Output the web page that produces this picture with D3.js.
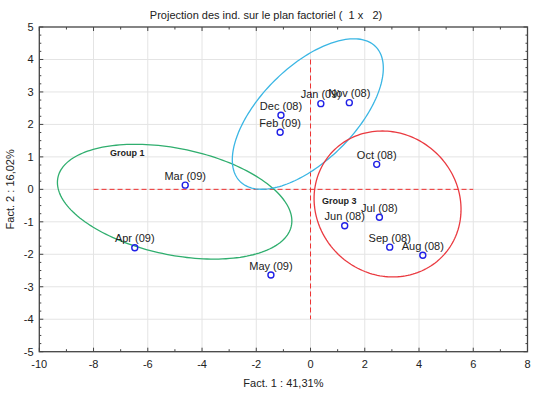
<!DOCTYPE html>
<html>
<head>
<meta charset="utf-8">
<script src="https://cdn.jsdelivr.net/npm/d3@7"></script>
<style>
  body { margin: 0; background: #fff; }
  text { font-family: "Liberation Sans", Arial, sans-serif; fill: #222; }
</style>
</head>
<body>
<svg id="chart" width="533" height="395"></svg>
<script>
// individuals projected on factor plane (1 x 2)
const labels = ["Jan (09)", "Nov (08)", "Dec (08)", "Feb (09)", "Oct (08)", "Jun (08)",
                "Jul (08)", "Sep (08)", "Aug (08)", "Mar (09)", "Apr (09)", "May (09)"];
const fact1 = [0.38, 1.43, -1.09, -1.12, 2.44, 1.26, 2.54, 2.92, 4.14, -4.62, -6.48, -1.46];
const fact2 = [2.64, 2.67, 2.28, 1.76, 0.77, -1.12, -0.86, -1.78, -2.03, 0.13, -1.80, -2.64];

// group ellipses: centre + shape (covariance-like) in factor units
const groupNames = ["Group 1", "Group 2", "Group 3"];
const groupColors = ["#2fae6e", "#3ab6e4", "#ea3a40"];
const groupCx = [-5.01, -0.10, 2.84];
const groupCy = [-0.38, 2.32, -0.45];
const groupSxx = [18.68, 7.75, 7.34];
const groupSyy = [3.125, 5.37, 5.05];
const groupSxy = [-2.56, 3.93, -0.45];

// only groups 1 and 3 are labelled
const groupLabelText = ["Group 1", "Group 3"];
const groupLabelX = [-7.39, 0.42];
const groupLabelY = [1.03, -0.44];

const xTicks = [-10, -8, -6, -4, -2, 0, 2, 4, 6, 8];
const yTicks = [-5, -4, -3, -2, -1, 0, 1, 2, 3, 4, 5];

const title = "Projection des ind. sur le plan factoriel (  1 x   2)";
const xTitle = "Fact. 1 : 41,31%";
const yTitle = "Fact. 2 : 16,02%";

const W = 533, H = 395;
const margin = {top: 27, right: 5.5, bottom: 43.3, left: 39.3};

const svg = d3.select("#chart");
let x = d3.scaleLinear().domain([-10, 8]).range([margin.left, W - margin.right]);
let y = d3.scaleLinear().domain([-5, 5]).range([H - margin.bottom, margin.top]);

// grid
let grid = svg.append("g").attr("stroke", "#e4e4e4").attr("stroke-width", 1);
grid.selectAll(".gx").data(xTicks.slice(1, -1)).join("line")
    .attr("x1", d => x(d)).attr("x2", d => x(d))
    .attr("y1", y(-5)).attr("y2", y(5));
grid.selectAll(".gy").data(yTicks.slice(1, -1)).join("line")
    .attr("x1", x(-10)).attr("x2", x(8))
    .attr("y1", d => y(d)).attr("y2", d => y(d));

// inward ticks on all four sides
let xMinor = d3.range(-10, 8.001, 1);
let yMinor = d3.range(-5, 5.001, 0.25);
let tk = svg.append("g").attr("stroke", "#444").attr("stroke-width", 1);
[[y(-5), -1], [y(5), 1]].forEach(([py, dir]) => {
    tk.selectAll(null).data(xMinor).join("line")
        .attr("x1", d => x(d)).attr("x2", d => x(d))
        .attr("y1", py).attr("y2", d => py + dir * (xTicks.includes(d) ? 4 : 2.5));
});
[[x(-10), 1], [x(8), -1]].forEach(([px, dir]) => {
    tk.selectAll(null).data(yMinor).join("line")
        .attr("y1", d => y(d)).attr("y2", d => y(d))
        .attr("x1", px).attr("x2", d => px + dir * (Number.isInteger(d) ? 4 : 2));
});

// red dashed factor axes
let axesG = svg.append("g").attr("stroke", "#ee3030").attr("stroke-width", 1)
    .attr("stroke-dasharray", "5,3");
axesG.append("line").attr("x1", x(-8)).attr("x2", x(6)).attr("y1", y(0)).attr("y2", y(0));
axesG.append("line").attr("x1", x(0)).attr("x2", x(0)).attr("y1", y(4)).attr("y2", y(-4));

// ellipses
let line = d3.line().curve(d3.curveLinearClosed);
groupNames.forEach((g, i) => {
    let a = Math.sqrt(groupSxx[i]);
    let ux = a, uy = groupSxy[i] / a;
    let vy = Math.sqrt(groupSyy[i] - uy * uy);
    let pts = d3.range(0, 2 * Math.PI, Math.PI / 90).map(t => [
        x(groupCx[i] + ux * Math.cos(t)),
        y(groupCy[i] + uy * Math.cos(t) + vy * Math.sin(t))
    ]);
    svg.append("path").attr("d", line(pts))
        .attr("fill", "none").attr("stroke", groupColors[i]).attr("stroke-width", 1.3);
});

// frame
svg.append("rect")
    .attr("x", x(-10)).attr("y", y(5))
    .attr("width", x(8) - x(-10)).attr("height", y(-5) - y(5))
    .attr("fill", "none").attr("stroke", "#444").attr("stroke-width", 1.3);

// points
svg.append("g").selectAll("circle").data(labels).join("circle")
    .attr("cx", (d, i) => x(fact1[i])).attr("cy", (d, i) => y(fact2[i]))
    .attr("r", 3).attr("fill", "none").attr("stroke", "#1f1fe6").attr("stroke-width", 1.4);

svg.append("g").selectAll("text").data(labels).join("text")
    .attr("x", (d, i) => x(fact1[i])).attr("y", (d, i) => y(fact2[i]) - 5.5)
    .attr("text-anchor", "middle").attr("font-size", 11).text(d => d);

// group labels
svg.append("g").selectAll("text").data(groupLabelText).join("text")
    .attr("x", (d, i) => x(groupLabelX[i])).attr("y", (d, i) => y(groupLabelY[i]))
    .attr("font-size", 9).attr("font-weight", "bold").text(d => d);

// tick labels
svg.append("g").selectAll("text").data(xTicks).join("text")
    .attr("x", d => x(d)).attr("y", 368).attr("text-anchor", "middle")
    .attr("font-size", 11).text(d => d);
svg.append("g").selectAll("text").data(yTicks).join("text")
    .attr("x", 33.5).attr("y", d => y(d)).attr("dy", "0.35em").attr("text-anchor", "end")
    .attr("font-size", 11).text(d => d);

// titles
svg.append("text").attr("x", 266).attr("y", 19).attr("text-anchor", "middle")
    .attr("font-size", 11).style("white-space", "pre").attr("xml:space", "preserve").text(title);
svg.append("text").attr("x", (x(-10) + x(8)) / 2).attr("y", 387).attr("text-anchor", "middle")
    .attr("font-size", 11).text(xTitle);
svg.append("text").attr("transform", `translate(14,${(y(-5) + y(5)) / 2}) rotate(-90)`)
    .attr("text-anchor", "middle").attr("font-size", 11).text(yTitle);
</script>
</body>
</html>
